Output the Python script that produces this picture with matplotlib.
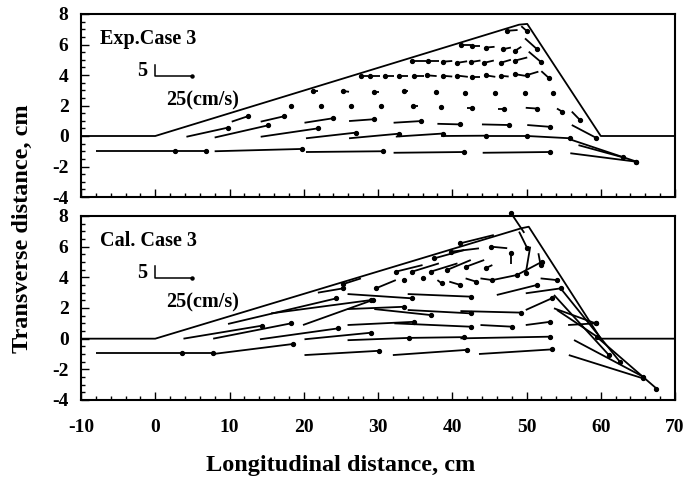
import matplotlib
matplotlib.use("Agg")
import matplotlib.pyplot as plt
from matplotlib.collections import LineCollection
from matplotlib.ticker import MultipleLocator
import numpy as np

plt.rcParams['font.family'] = ['Liberation Serif', 'DejaVu Serif']
plt.rcParams['font.weight'] = 'bold'

# bank outline (longitudinal, transverse), cm
exp_bank_x = [-10, 0, 49.0, 50.1, 60, 70]
exp_bank_y = [0, 0, 7.3, 7.35, 0, 0]
cal_bank_x = [-10, 0, 49.3, 50.3, 60, 70]
cal_bank_y = [0, 0, 7.2, 7.3, 0, 0]

# measured vectors: tail position (x, y) and velocity drawn in plot units (u, v)
exp_x = [-8.0, 2.6, 8.0, 20.3, 32.1, 44.1, 55.9,
         4.2, 8.0, 14.2, 20.3, 26.1, 32.4, 38.5, 44.5, 50.1, 56.1, 57.0,
         10.3, 14.2, 20.1, 26.1, 32.1, 38.0, 44.0, 50.1, 56.1,
         18.3, 22.3, 26.4, 30.4, 35.4, 38.5, 42.0, 46.1, 49.9, 54.1, 56.1,
         21.9, 26.1, 30.1, 34.0, 37.8, 41.7, 45.8, 49.8, 53.6,
         28.6, 30.3, 32.2, 34.0, 36.2, 37.9, 40.0, 42.1, 43.7, 45.8, 47.6, 49.8, 51.6, 52.0,
         36.4, 38.2, 40.0, 42.0, 43.8, 45.6, 47.9, 50.1, 50.3,
         42.5, 43.8, 45.7, 47.9, 49.3, 49.8,
         48.8, 49.3]
exp_y = [-1.0, -1.0, -1.0, -1.05, -1.1, -1.1, -1.13,
         -0.05, -0.1, -0.05, -0.15, -0.15, -0.04, 0.0, 0.0, 0.0, -0.26, -0.6,
         0.94, 0.94, 0.87, 0.98, 0.87, 0.8, 0.76, 0.72, 0.72,
         1.97, 1.97, 1.97, 1.97, 1.95, 1.9, 1.85, 1.8, 1.85, 1.8, 1.6,
         2.95, 2.9, 2.9, 2.95, 2.9, 2.85, 2.85, 2.85, 2.85,
         3.93, 3.93, 3.93, 3.93, 3.93, 3.93, 3.9, 3.88, 3.9, 3.88, 3.9, 3.95, 4.22, 4.25,
         4.92, 4.92, 4.92, 4.9, 4.95, 4.95, 5.0, 5.15, 5.53,
         5.95, 5.9, 5.85, 5.8, 5.85, 6.4,
         6.95, 7.2]
exp_u = [10.6, 4.2, 11.7, 10.4, 9.5, 9.0, 8.8,
         5.6, 7.2, 7.7, 6.7, 6.7, 6.3, 6.0, 5.6, 5.8, 8.7, 6.0,
         2.2, 3.2, 3.8, 3.4, 3.7, 3.1, 3.6, 3.1, 3.2,
         0, 0, 0, 0, -0.7, 0, 0.7, 0.9, 1.5, 0.7, 1.1,
         -0.7, -0.8, -0.6, -0.5, 0, 0, 0, 0, 0,
         -0.9, -1.4, -1.3, -1.2, -1.4, -1.3, -1.3, -1.4, -1.0, -1.3, -1.1, -1.3, -1.5, 1.0,
         -1.8, -1.5, -1.3, -1.3, -1.3, -1.3, -1.4, -1.6, 1.6,
         -1.3, -1.1, -1.1, -1.0, -0.8, 1.6,
         -1.4, 0.7]
exp_v = [0.0, 0.0, 0.15, 0.05, 0.05, 0.05, -0.55,
         0.6, 0.8, 0.55, 0.37, 0.3, 0.2, 0.02, 0.0, -0.15, -1.42, -0.8,
         0.36, 0.36, 0.29, 0.12, 0.11, -0.04, -0.04, -0.12, -0.82,
         0, 0, 0, 0, 0, 0, 0, 0, -0.05, -0.2, -0.55,
         0, 0.05, 0, 0, 0, 0, 0, 0, 0,
         0, 0, 0, 0, 0, 0.05, 0.05, 0.08, 0, 0.1, 0.05, 0.1, -0.22, -0.44,
         0, 0, -0.05, -0.1, -0.1, -0.15, -0.2, -0.2, -0.66,
         0, 0, -0.05, -0.1, -0.25, -0.7,
         -0.05, -0.3]

cal_x = [-8.0, 3.6, 7.8, 20.1, 32.0, 43.6, 55.7,
         3.8, 7.8, 14.1, 20.1, 25.9, 34.2, 41.1, 56.4, 59.5,
         9.8, 19.9, 25.9, 32.2, 43.8, 49.9, 55.6,
         15.6, 25.9, 29.5, 34.0, 41.1, 49.9, 54.1, 53.7,
         21.9, 25.9, 34.0, 46.0, 49.9, 51.9, 53.7, 54.6,
         27.7, 32.4, 33.5, 36.0, 38.0, 39.6, 41.8, 43.8, 45.4, 48.7,
         36.0, 38.2, 40.7, 42.5, 44.3, 45.4, 41.6, 43.6, 47.4, 45.6,
         47.9, 49.0, 50.5, 51.6, 49.7]
cal_y = [-0.95, -0.95, -1.0, -1.07, -1.07, -1.0, -1.07,
         0.0, 0.0, -0.04, -0.04, -0.1, 0.05, 0.02, -0.09, 0.1,
         0.96, 0.89, 0.89, 1.0, 0.89, 0.89, 0.89,
         1.65, 1.93, 1.93, 1.87, 1.8, 1.87, 1.87, 1.98,
         3.0, 2.91, 2.91, 2.85, 2.96, 3.93, 2.85, 3.28,
         3.93, 3.82, 3.82, 3.93, 3.82, 3.72, 3.93, 3.93, 3.82, 4.15,
         4.8, 4.91, 4.91, 5.13, 5.13, 4.8, 5.78, 5.89, 5.9, 6.76,
         4.9, 6.98, 6.0, 5.57, 6.9]
cal_u = [11.6, 4.2, 10.7, 10.1, 10.0, 9.8, 10.0,
         10.6, 10.5, 10.5, 9.0, 8.3, 7.4, 12.1, 9.3, 8.0,
         14.6, 9.4, 9.0, 10.3, 4.3, 3.3, 3.7,
         13.5, 7.6, 7.6, 8.5, 8.1, 3.5, 5.4, 5.6,
         3.4, 8.7, 8.5, 5.4, 4.7, 2.2, 7.4, 8.0,
         -2.4, -2.7, 0, 0, 0.6, 1.5, 1.4, 1.6, 3.3, 3.4,
         -3.6, -3.6, -3.6, -3.2, -2.4, -0.9, -4.0, -3.8, -2.2, -4.5,
         0.0, 1.1, -0.6, 0.3, -1.8]
cal_v = [0.0, 0.0, 0.65, 0.28, 0.34, 0.3, -1.52,
         0.85, 1.0, 0.71, 0.43, 0.15, 0.05, 0.11, -2.39, -3.35,
         1.67, 1.63, 0.21, -0.22, -0.11, 0.21, 0.11,
         0.87, 0.15, -0.39, -0.22, -0.1, 0.76, -1.74, -0.98,
         0.28, -0.28, -0.17, 0.65, 0.32, -0.11, -3.92, -4.8,
         -0.37, -0.54, 0, 0, -0.22, -0.22, -0.21, -0.11, 0.33, 0.87,
         -0.43, -0.54, -0.54, -0.65, -0.43, -0.2, -0.54, -0.22, 0.1, -0.54,
         0.67, -1.08, -1.74, -0.77, 1.3]

xticks = [-10, 0, 10, 20, 30, 40, 50, 60, 70]
yticks = [-4, -2, 0, 2, 4, 6, 8]


def draw_panel(ax, bank_x, bank_y, x, y, u, v, title, bar_y, text_y):
    x, y, u, v = map(np.asarray, (x, y, u, v))
    ax.plot(bank_x, bank_y, color='black', lw=1.3)
    segs = np.stack([np.column_stack([x, y]), np.column_stack([x + u, y + v])], axis=1)
    ax.add_collection(LineCollection(segs, colors='black', linewidths=1.3, clip_on=False))
    ax.plot(x + u, y + v, 'o', color='black', ms=2.8, clip_on=False)

    # velocity scale
    ax.plot([0, 0, 5.0], [bar_y + 0.75, bar_y, bar_y], color='black', lw=1.1)
    ax.plot([5.0], [bar_y], 'o', color='black', ms=2.2)
    ax.text(-1.1, bar_y + 0.35, '5', ha='right', va='center', fontsize=14.5)
    ax.text(1.4, text_y, '25(cm/s)', ha='left', va='center', fontsize=14.5)
    ax.text(-7.5, 6.35, title, ha='left', va='center', fontsize=14.5)

    ax.set_xlim(-10, 70)
    ax.set_ylim(-4, 8)
    ax.set_xticks(xticks)
    ax.set_yticks(yticks)
    ax.xaxis.set_minor_locator(MultipleLocator(2))
    ax.yaxis.set_minor_locator(MultipleLocator(0.5))
    ax.tick_params(which='both', direction='in', top=False, right=False,
                   labelsize=14, width=1.0)
    ax.tick_params(which='major', length=6)
    ax.tick_params(which='minor', length=3)
    ax.tick_params(axis='x', pad=14)
    ax.tick_params(axis='y', pad=9)
    for s in ax.spines.values():
        s.set_linewidth(1.5)


fig = plt.figure(figsize=(6.91, 4.88), dpi=100)
ax1 = fig.add_axes([81 / 691, 1 - 197 / 488, 594 / 691, 183 / 488])
ax2 = fig.add_axes([81 / 691, 1 - 400 / 488, 594 / 691, 184 / 488])

draw_panel(ax1, exp_bank_x, exp_bank_y, exp_x, exp_y, exp_u, exp_v, 'Exp.Case 3', 3.93, 2.36)
draw_panel(ax2, cal_bank_x, cal_bank_y, cal_x, cal_y, cal_u, cal_v, 'Cal. Case 3', 3.96, 2.39)
ax1.tick_params(labelbottom=False)
ax2.set_xticklabels([str(t) for t in xticks])
ax1.set_yticklabels([str(t) for t in yticks])
ax2.set_yticklabels([str(t) for t in yticks])

fig.text(22 / 691, 1 - 229 / 488, 'Transverse distance, cm', rotation=90,
         ha='center', va='center', fontsize=17.5)
fig.text(341 / 691, 1 - 466 / 488, 'Longitudinal distance, cm',
         ha='center', va='center', fontsize=17.5)

fig.savefig('out.png', dpi=100)
